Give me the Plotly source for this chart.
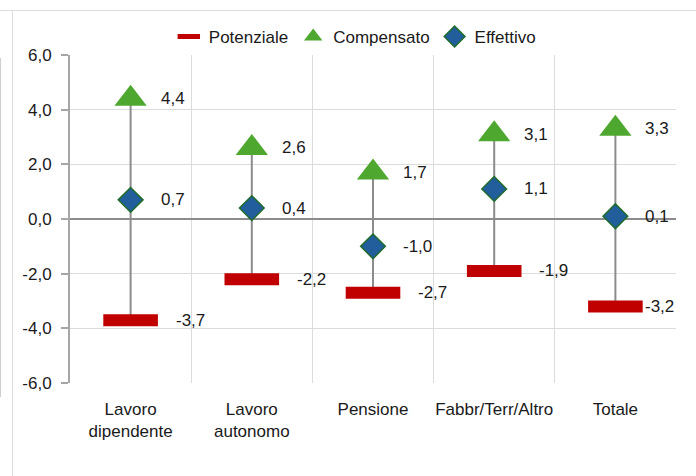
import plotly.graph_objects as go

# Categories and the three series (percentage values)
categories = ["Lavoro<br>dipendente", "Lavoro<br>autonomo", "Pensione", "Fabbr/Terr/Altro", "Totale"]
potenziale = [-3.7, -2.2, -2.7, -1.9, -3.2]
compensato = [4.4, 2.6, 1.7, 3.1, 3.3]
effettivo = [0.7, 0.4, -1.0, 1.1, 0.1]
y_ticks = [-6, -4, -2, 0, 2, 4, 6]


def fmt(v):
    return f"{v:.1f}".replace(".", ",")


FONT = "Liberation Sans, Arial, sans-serif"
TXT = "#1a1a1a"
RED = "#C00000"
GREEN = "#4EA72E"
BLUE = "#235E9C"
DKGREEN = "#1E6B2E"
WHISKER = "#8c8c8c"

fig = go.Figure()

# vertical whiskers from potential to compensated value
wx, wy = [], []
for c, lo, hi in zip(categories, potenziale, compensato):
    wx += [c, c, None]
    wy += [lo, hi, None]
fig.add_trace(go.Scatter(x=wx, y=wy, mode="lines", line=dict(color=WHISKER, width=2),
                         showlegend=False, hoverinfo="skip"))

fig.add_trace(go.Scatter(
    x=categories, y=potenziale, mode="markers", name="Potenziale", legendrank=1,
    marker=dict(symbol="line-ew", size=39, color=RED, line=dict(color=RED, width=12)),
))
fig.add_trace(go.Scatter(
    x=categories, y=compensato, mode="markers", name="Compensato", legendrank=2,
    marker=dict(symbol="triangle-up", size=28, color=GREEN, line=dict(width=0)),
))
fig.add_trace(go.Scatter(
    x=categories, y=effettivo, mode="markers", name="Effettivo", legendrank=3,
    marker=dict(symbol="diamond", size=19, color=BLUE, line=dict(color=DKGREEN, width=1.5)),
))

# value labels
annotations = []
for i, c in enumerate(categories):
    pot_shift = 28 if i == len(categories) - 1 else 43
    for val, sh in ((potenziale[i], pot_shift), (compensato[i], 28), (effettivo[i], 28)):
        annotations.append(dict(x=c, y=val, xref="x", yref="y", text=fmt(val),
                                showarrow=False, xanchor="left", yanchor="middle",
                                xshift=sh, font=dict(family=FONT, size=17, color=TXT)))

# thin frame lines around the chart panel
L, R, T, B = 70, 20, 55, 93
PW, PH = 696 - L - R, 476 - T - B


def px_x(p):
    return (p - L) / PW


def px_y(p):
    return (476 - B - p) / PH


frame = [
    dict(type="line", xref="paper", yref="paper", x0=px_x(0), x1=px_x(696), y0=px_y(10.5), y1=px_y(10.5),
         line=dict(color="#dcdcdc", width=1)),
    dict(type="line", xref="paper", yref="paper", x0=px_x(12.5), x1=px_x(12.5), y0=px_y(10.5), y1=px_y(476),
         line=dict(color="#dcdcdc", width=1)),
    dict(type="line", xref="paper", yref="paper", x0=px_x(0.5), x1=px_x(0.5), y0=px_y(58), y1=px_y(397),
         line=dict(color="#cfcfcf", width=1)),
]

fig.update_layout(
    width=696, height=476,
    margin=dict(l=L, r=R, t=T, b=B, autoexpand=False),
    paper_bgcolor="white", plot_bgcolor="white",
    font=dict(family=FONT, size=17, color=TXT),
    showlegend=True,
    legend=dict(orientation="h", x=0.47, xanchor="center", y=px_y(37), yanchor="middle",
                font=dict(family=FONT, size=17, color=TXT), bgcolor="rgba(0,0,0,0)",
                itemwidth=30, tracegroupgap=0),
    annotations=annotations,
    shapes=frame,
)
fig.update_xaxes(
    type="category", categoryorder="array", categoryarray=categories,
    tickson="boundaries", ticks="", showgrid=True, gridcolor="#dcdcdc", gridwidth=1,
    showline=False, zeroline=False, tickfont=dict(family=FONT, size=17, color=TXT),
    range=[-0.5, 4.5], tickangle=0, automargin=False, ticklabelstandoff=14,
)
fig.update_yaxes(
    range=[-6, 6], tickvals=y_ticks, ticktext=[fmt(v) for v in y_ticks],
    showgrid=True, gridcolor="#dcdcdc", gridwidth=1,
    zeroline=True, zerolinecolor=WHISKER, zerolinewidth=2,
    showline=True, linecolor="#a6a6a6", linewidth=2,
    ticks="outside", ticklen=7, tickcolor="#a6a6a6", tickwidth=2,
    tickfont=dict(family=FONT, size=17, color=TXT), automargin=False, ticklabelstandoff=6,
)

fig.write_html("out.html")
